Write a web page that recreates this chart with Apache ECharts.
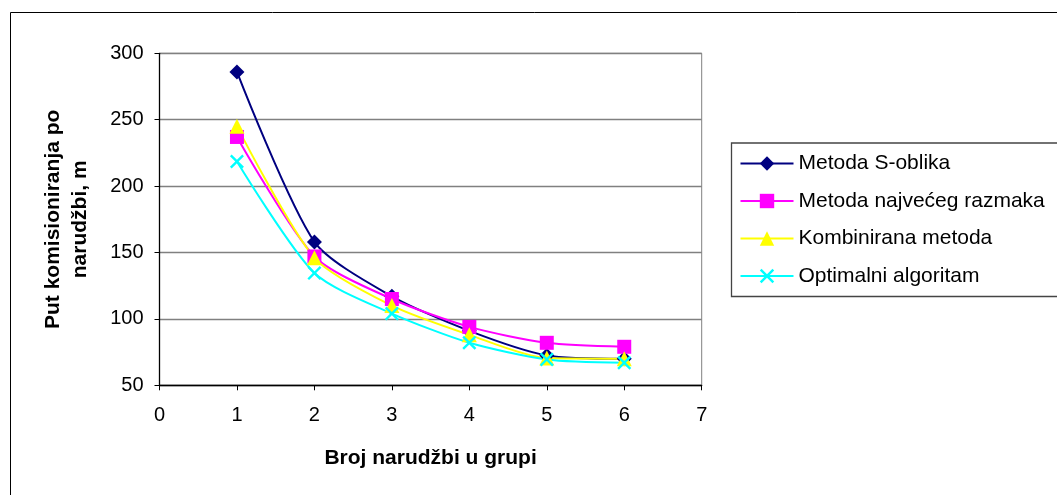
<!DOCTYPE html>
<html>
<head>
<meta charset="utf-8">
<script src="https://cdn.jsdelivr.net/npm/echarts@6/dist/echarts.min.js"></script>
<style>
html,body{margin:0;padding:0;background:#fff;}
#c{width:1057px;height:495px;}
</style>
</head>
<body>
<div id="c"></div>
<script>
const xValues = [1, 2, 3, 4, 5, 6];
const seriesNames = ['Metoda S-oblika', 'Metoda najvećeg razmaka', 'Kombinirana metoda', 'Optimalni algoritam'];
const sOblika = [286, 158, 117, 91, 72.5, 70];
const najveciRazmak = [237, 147, 115, 94, 82, 79];
const kombinirana = [245, 146, 110, 88, 70.5, 70];
const optimalni = [218.5, 134.5, 104, 82, 69.5, 67];
const xTicks = [0, 7, 1];   // min, max, interval
const yTicks = [50, 300, 50];
const xTitle = 'Broj narudžbi u grupi';
const yTitle = 'Put komisioniranja po\nnarudžbi, m';

const FONT = '"Liberation Sans", Arial, sans-serif';
const xPath = 'path://M0,1.2 L1.2,0 L5,3.8 L8.8,0 L10,1.2 L6.2,5 L10,8.8 L8.8,10 L5,6.2 L1.2,10 L0,8.8 L3.8,5 Z';

function pairs(vals){ return xValues.map((x,i)=>[x, vals[i]]); }

const styles = [
  {color:'#000080', symbol:'diamond', size:15},
  {color:'#FF00FF', symbol:'rect', size:14},
  {color:'#FFFF00', symbol:'triangle', size:15},
  {color:'#00FFFF', symbol:xPath, size:14}
];
const allData = [sOblika, najveciRazmak, kombinirana, optimalni];

const chart = echarts.init(document.getElementById('c'), null, {renderer:'canvas'});
chart.setOption({
  animation:false,
  backgroundColor:'#fff',
  textStyle:{fontFamily:FONT},
  graphic:[{
    type:'rect', shape:{x:10.5, y:12.5, width:1200, height:600},
    style:{fill:'none', stroke:'#000', lineWidth:1}, silent:true, z:-10
  }],
  grid:{left:159.5, top:53.3, width:542.2, height:332, show:true, borderColor:'#808080', borderWidth:1, backgroundColor:'transparent'},
  xAxis:{
    type:'value', min:xTicks[0], max:xTicks[1], interval:xTicks[2],
    name:xTitle, nameLocation:'middle', nameGap:62,
    nameTextStyle:{fontSize:21, fontWeight:'bold', color:'#000', fontFamily:FONT},
    axisLine:{show:true, lineStyle:{color:'#000', width:1.3}},
    axisTick:{show:true, length:5, lineStyle:{color:'#000'}},
    axisLabel:{fontSize:20, color:'#000', margin:20, fontFamily:FONT},
    splitLine:{show:false}
  },
  yAxis:{
    type:'value', min:yTicks[0], max:yTicks[1], interval:yTicks[2],
    name:yTitle, nameLocation:'middle', nameGap:66, nameRotate:90,
    nameTextStyle:{fontSize:21, fontWeight:'bold', color:'#000', lineHeight:27, fontFamily:FONT},
    axisLine:{show:true, lineStyle:{color:'#000', width:1.3}},
    axisTick:{show:true, length:5, lineStyle:{color:'#000'}},
    axisLabel:{fontSize:20, color:'#000', margin:16, fontFamily:FONT},
    splitLine:{show:true, lineStyle:{color:'#808080', width:1.3}}
  },
  legend:{
    orient:'vertical', left:731.5, top:143,
    itemWidth:53, itemHeight:18, itemGap:16.5,
    padding:[10, 40, 10, 8],
    borderColor:'#444', borderWidth:1.3, backgroundColor:'#fff',
    textStyle:{fontSize:21, color:'#000', fontFamily:FONT},
    data:seriesNames
  },
  series: seriesNames.map((n,i)=>({
    name:n, type:'line', smooth:0.25,
    data:pairs(allData[i]),
    symbol:styles[i].symbol, symbolSize:styles[i].size,
    lineStyle:{color:styles[i].color, width:2},
    itemStyle:{color:styles[i].color},
    emphasis:{disabled:true}
  }))
});
</script>
</body>
</html>
